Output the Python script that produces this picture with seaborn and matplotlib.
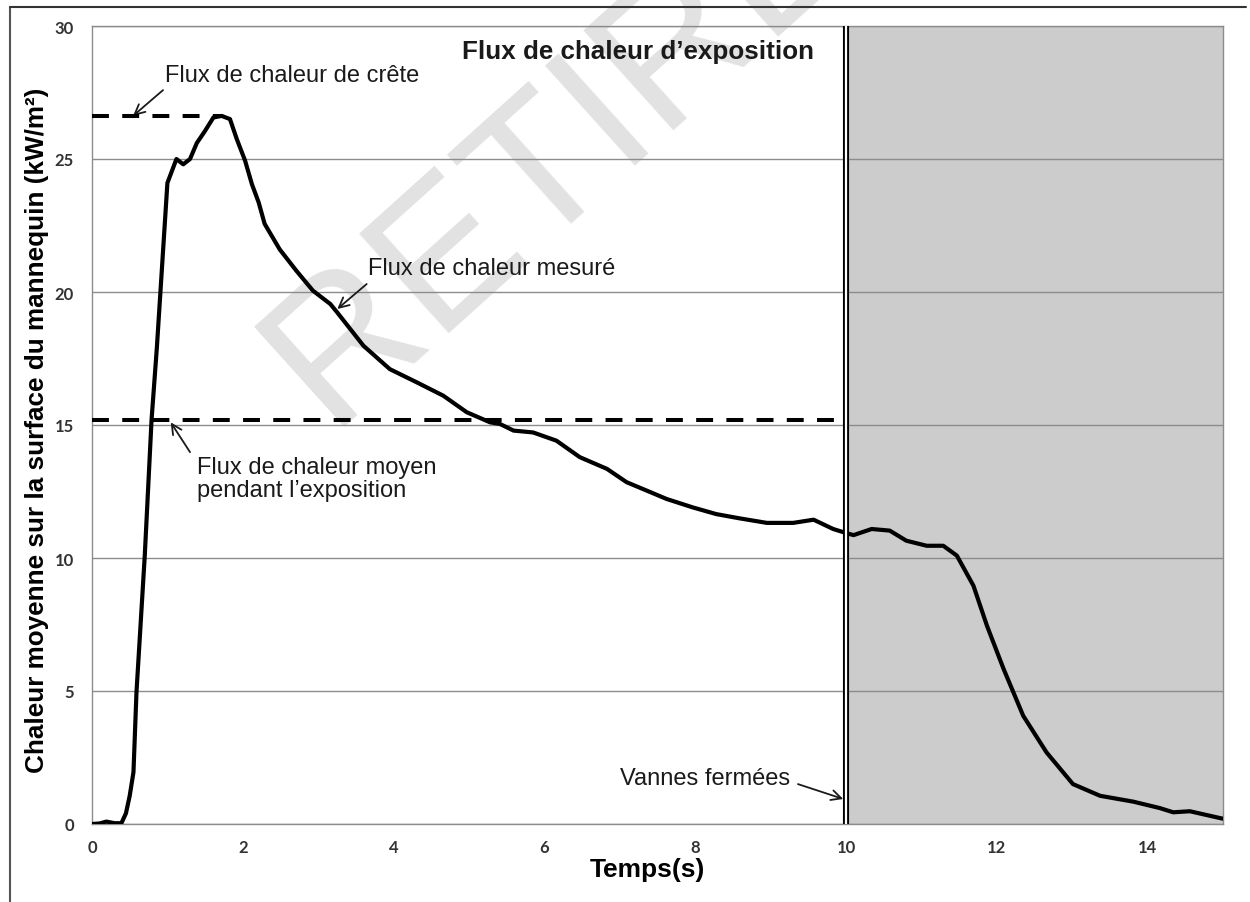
import numpy as np
import pandas as pd
import matplotlib
matplotlib.use("Agg")
import matplotlib.pyplot as plt
import seaborn as sns
from matplotlib.lines import Line2D

# ---- data ----
time_s = [0.0, 0.1, 0.19, 0.3, 0.39, 0.45, 0.50, 0.55, 0.59, 0.70, 0.79, 0.86, 1.0, 1.12,
          1.21, 1.30, 1.39, 1.50, 1.61, 1.72, 1.83, 1.92, 2.03, 2.12, 2.21, 2.29, 2.49,
          2.71, 2.93, 3.16, 3.25, 3.60, 3.95, 4.31, 4.66, 4.97, 5.28, 5.41, 5.59, 5.85,
          6.16, 6.47, 6.83, 7.09, 7.36, 7.62, 7.97, 8.28, 8.59, 8.95, 9.30, 9.57, 9.83,
          10.0, 10.10, 10.34, 10.58, 10.80, 11.07, 11.29, 11.47, 11.69, 11.87, 12.09,
          12.35, 12.66, 13.01, 13.37, 13.81, 14.16, 14.34, 14.56, 14.98, 15.0]
heat_flux = [0.0, 0.02, 0.09, 0.03, 0.03, 0.4, 1.06, 1.95, 4.96, 10.1, 15.2, 17.9, 24.1, 25.0,
             24.8, 25.0, 25.6, 26.06, 26.56, 26.62, 26.5, 25.75, 24.94, 24.06, 23.37, 22.56, 21.6,
             20.8, 20.05, 19.55, 19.24, 17.98, 17.1, 16.6, 16.1, 15.48, 15.1, 15.04, 14.79, 14.72,
             14.41, 13.79, 13.35, 12.85, 12.53, 12.22, 11.9, 11.65, 11.49, 11.32, 11.32, 11.44, 11.09,
             10.94, 10.86, 11.09, 11.03, 10.65, 10.46, 10.46, 10.09, 8.96, 7.45, 5.83,
             4.07, 2.69, 1.5, 1.06, 0.84, 0.6, 0.44, 0.48, 0.21, 0.2]
peak_flux = 26.6
peak_time = 1.7
mean_flux = 15.2
valve_close = 10.0
x_ticks = [0, 2, 4, 6, 8, 10, 12, 14]
y_ticks = [0, 5, 10, 15, 20, 25, 30]

title_text = "Flux de chaleur d\u2019exposition"
xlabel_text = "Temps(s)"
ylabel_text = "Chaleur moyenne sur la surface du mannequin (kW/m\u00b2)"
lbl_peak = "Flux de chaleur de cr\u00eate"
lbl_meas = "Flux de chaleur mesur\u00e9"
lbl_mean = "Flux de chaleur moyen\npendant l\u2019exposition"
lbl_valve = "Vannes ferm\u00e9es"
watermark = "RETIR\u00c9"

df = pd.DataFrame({"t": time_s, "q": heat_flux})

sns.set_theme(style="white")
plt.rcParams['font.family'] = ['Liberation Sans', 'DejaVu Sans']

fig = plt.figure(figsize=(12.5, 9.03), dpi=100)
fig.patch.set_facecolor("white")
ax = fig.add_axes([92/1250, 1-825/903, (1223-92)/1250, (825-27)/903])
ax.patch.set_alpha(0)

# watermark behind everything
fig.text(560/1250, 1-150/903, watermark, fontsize=140, color="#e2e2e2",
         rotation=42, ha="center", va="center", zorder=-5,
         family=['Liberation Sans', 'DejaVu Sans'])

ax.axvspan(valve_close, 15, color="#cccccc", zorder=0.2, lw=0)
ax.set_axisbelow(True)
ax.yaxis.grid(True, color="#8c8c8c", lw=1.0)
ax.xaxis.grid(False)

sns.lineplot(data=df, x="t", y="q", ax=ax, color="black", lw=3.0, zorder=5)

# dashed reference lines
ax.plot([0, peak_time], [peak_flux, peak_flux], color="black", lw=2.9,
        dashes=(4.2, 3.3), zorder=4)
ax.plot([0, valve_close], [mean_flux, mean_flux], color="black", lw=2.9,
        dashes=(4.2, 3.3), zorder=4)

# double line at valve closing
ax.axvline(valve_close + 0.005, color="black", lw=4.4, zorder=6)
ax.axvline(valve_close + 0.005, color="white", lw=1.6, zorder=7)

ax.set_xlim(0, 15)
ax.set_ylim(0, 30)
ax.set_xticks(x_ticks)
ax.set_yticks(y_ticks)
tick_font = dict(family=['Lato', 'DejaVu Sans'], weight='bold', size=12, color='#333333')
ax.set_xticklabels([str(v) for v in x_ticks], **tick_font)
ax.set_yticklabels([str(v) for v in y_ticks], **tick_font)
ax.tick_params(axis='both', which='both', direction='out', length=4, width=1,
               color='#8c8c8c')
ax.tick_params(axis='y', pad=9)
ax.tick_params(axis='x', pad=7)

for side in ["left", "bottom", "right", "top"]:
    ax.spines[side].set_color("#8c8c8c")
    ax.spines[side].set_linewidth(1.0)

ax.set_xlabel(xlabel_text, fontsize=19, fontweight='bold', color='black')
ax.xaxis.label.set_va('center')
ax.xaxis.set_label_coords((647-92)/1131, (825-870)/798)
ax.set_ylabel(ylabel_text, fontsize=18.8, fontweight='bold', color='black')
ax.yaxis.label.set_va('center')
ax.yaxis.set_label_coords((37-92)/1131, (825-430)/798)

ax.text(7.24, 29.06, title_text, fontsize=18.7, fontweight='bold', color='#1a1a1a',
        ha='center', va='center', zorder=8)

txt_kw = dict(fontsize=17, color='#1a1a1a', zorder=8)
arr_kw = dict(arrowprops=dict(arrowstyle='->', color='#1a1a1a', lw=1.3,
                              shrinkA=0, shrinkB=0, mutation_scale=18))

ax.text(0.968, 28.15, lbl_peak, ha='left', va='center', **txt_kw)
ax.annotate("", xy=(0.544, 26.62), xytext=(0.942, 27.59), **arr_kw)

ax.text(3.66, 20.9, lbl_meas, ha='left', va='center', **txt_kw)
ax.annotate("", xy=(3.253, 19.36), xytext=(3.643, 20.30), **arr_kw)

ax.text(1.393, 13.83, lbl_mean, ha='left', va='top', linespacing=1.05, **txt_kw)
ax.annotate("", xy=(1.044, 15.10), xytext=(1.30, 13.98), **arr_kw)

ax.text(9.257, 1.73, lbl_valve, ha='right', va='center', **txt_kw)
ax.annotate("", xy=(9.964, 0.94), xytext=(9.363, 1.50), **arr_kw)

# outer border of figure
fig.add_artist(Line2D([10/1250, 10/1250], [0, 1-8/903], color="#555555", lw=1.5))
fig.add_artist(Line2D([10/1250, 1246/1250], [1-8/903, 1-8/903], color="#333333", lw=1.5))

fig.savefig("out.png", dpi=100, facecolor="white")
